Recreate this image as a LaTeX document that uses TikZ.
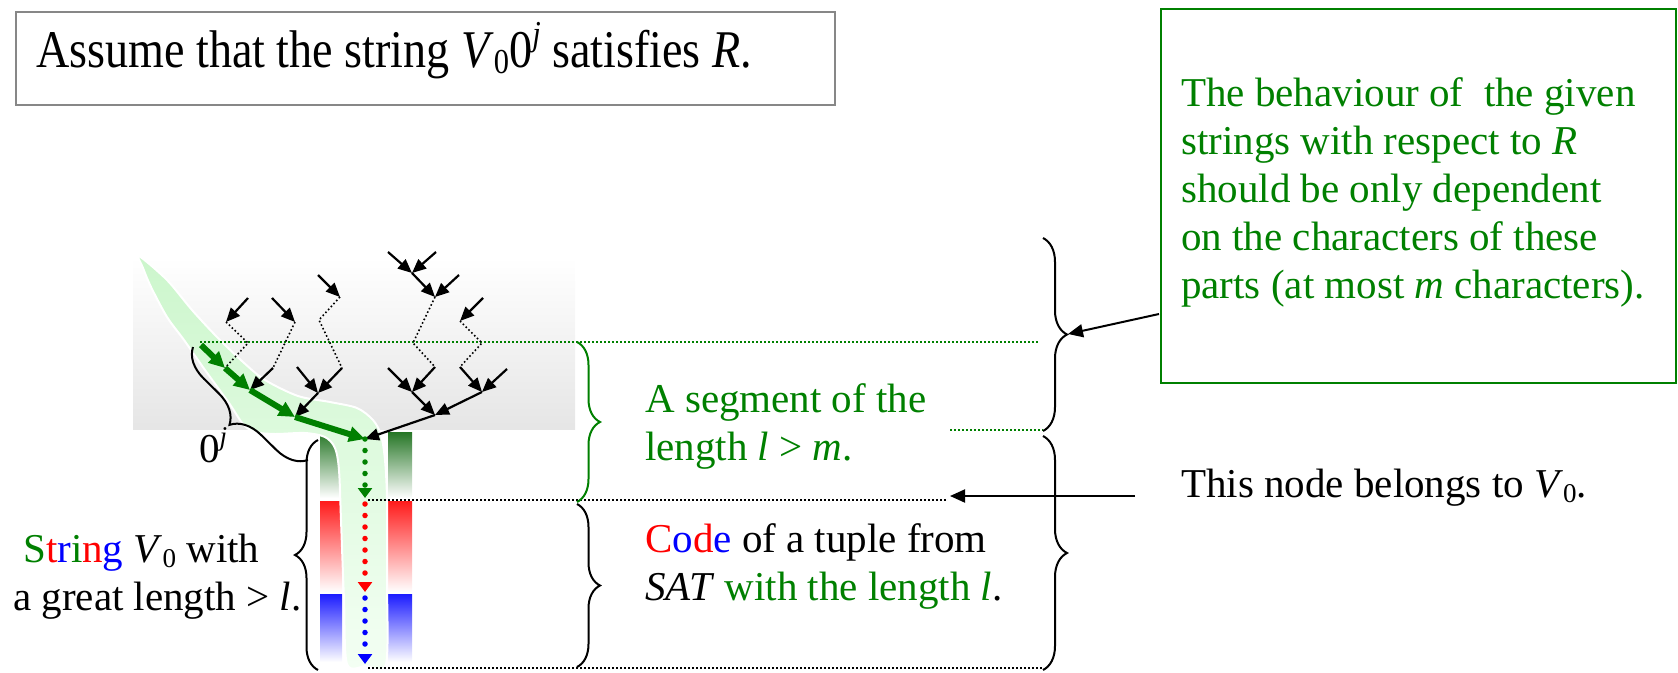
\documentclass[tikz,border=0pt]{standalone}
\usepackage{fontspec}
\setmainfont{Liberation Serif}
\usetikzlibrary{arrows.meta,decorations.pathreplacing}

\definecolor{pgreen}{RGB}{0,128,0}
\definecolor{pred}{RGB}{255,0,0}
\definecolor{pblue}{RGB}{0,0,255}
\definecolor{boxgray}{RGB}{135,135,135}
\definecolor{blobA}{RGB}{204,246,204}
\definecolor{blobB}{RGB}{244,255,244}
\definecolor{barGreen}{RGB}{38,118,38}
\definecolor{barRed}{RGB}{255,28,28}
\definecolor{barBlue}{RGB}{28,28,255}

\newcommand\bodyfont{\fontsize{41}{48}\selectfont}
\newcommand\titlefont{\fontsize{53}{60}\selectfont}
% small lowered / raised indices set in text fonts
\newcommand\subidx[1]{\raisebox{-0.13em}{\scalebox{0.66}{#1}}}
\newcommand\supidx[1]{\raisebox{0.40em}{\scalebox{0.66}{#1}}}

\begin{document}
\begin{tikzpicture}[x=1pt,y=-1pt,
  tarrow/.style={draw=black,line width=2.2pt,-{Triangle[length=14pt,width=12pt]}},
  parrow/.style={draw=black,line width=2pt,-{Triangle[length=15pt,width=13pt]}},
  tdots/.style={draw=black,line width=1.6pt,dash pattern=on 1.6pt off 2.4pt},
  garrow/.style={draw=pgreen,line width=6pt,-{Triangle[length=16pt,width=15pt]}},
  vdots/.style={line width=5.5pt,line cap=round,dash pattern=on 0pt off 11.5pt,-{Triangle[length=10pt,width=14pt]}},
  hdots/.style={line width=1.5pt,dash pattern=on 1.5pt off 2.5pt},
  brc/.style={decorate,decoration={brace,amplitude=#1},line width=2pt},
  lbl/.style={font=\bodyfont,inner sep=0pt,anchor=base west,align=left},
]
\useasboundingbox (0,0) rectangle (1678,672);

% ---------- boxes ----------
\node[draw=boxgray,line width=2pt,minimum width=819pt,minimum height=93pt,
      anchor=north west,inner sep=0pt] (titlebox) at (15,11) {};
\node[lbl,font=\titlefont] (title) at (36,67)
  {\scalebox{0.87}[1]{Assume that the string \textit{V}\subidx{0}0\supidx{\textit{j}} satisfies \textit{R}.}};

\node[draw=pgreen,line width=2pt,minimum width=515pt,minimum height=374pt,
      anchor=north west,inner sep=0pt] (gbox) at (1160,8) {};
% multi-line labels are anchored at the baseline of their last line
\node[lbl,text=pgreen] (behaviour) at (1181,298)
  {The behaviour of\ \ the given\\strings with respect to \textit{R}\\should be only dependent\\on the characters of these\\parts (at most \textit{m} characters).};

% ---------- background of the tree ----------
\shade[top color=white,bottom color=black!10] (133,257) rectangle (575,429);

% coloured bars beside the string
\shade[top color=barGreen,bottom color=white] (320,432) rectangle (342,498);
\shade[top color=barGreen,bottom color=white] (388,432) rectangle (412,498);
\shade[top color=barRed,bottom color=white] (320,501) rectangle (342,592);
\shade[top color=barRed,bottom color=white] (388,501) rectangle (412,592);
\shade[top color=barBlue,bottom color=white] (320,594) rectangle (342,662);
\shade[top color=barBlue,bottom color=white] (388,594) rectangle (412,662);

% highlighted path of the string
\shadedraw[top color=blobA,middle color=blobA,bottom color=blobB,draw=white,line width=2pt]
  plot[smooth cycle,tension=0.5] coordinates {
   (139,256) (167,280) (192,310) (217,337) (243,362) (265,380) (298,396)
   (330,402) (357,408) (373,420) (381,435) (385,460) (387,500) (387,580)
   (386,664) (366,666) (347,664) (344,600) (341,520) (339,470) (335,448)
   (325,437) (305,433) (275,434) (255,432) (243,424) (229,403) (205,370)
   (184,340) (167,317) (151,287) (143,268)};

% ---------- guide lines ----------
\coordinate (gl0) at (200,342);
\coordinate (gl1) at (1040,342);
\coordinate (gs0) at (950,430);
\coordinate (gs1) at (1043,430);
\coordinate (kl0) at (368,500);
\coordinate (kl1) at (948,500);
\coordinate (kb0) at (368,668);
\coordinate (kb1) at (1043,668);
\draw[hdots,pgreen] (gl0) -- (gl1);
\draw[hdots,pgreen] (gs0) -- (gs1);
\draw[hdots,black] (kl0) -- (kl1);
\draw[hdots,black] (kb0) -- (kb1);

% ---------- braces ----------
\draw[brc=30] (308,460) -- (193,347);
\draw[brc=23] (318,670) -- (318,440);
\draw[brc=23,pgreen] (577,342) -- (577,502);
\draw[brc=23] (577,504) -- (577,667);
\draw[brc=24] (1043,238) -- (1043,431);
\draw[brc=24] (1043,436) -- (1043,670);

% ---------- tree ----------
\coordinate (g0) at (201,345);
\coordinate (g1) at (225,368);
\coordinate (g2) at (250,390);
\coordinate (g3) at (295,417);
\coordinate (g4) at (365,439);

\coordinate (a0) at (248,298);
\coordinate (a1) at (226,322);
\coordinate (a2) at (248,343);
\draw[tarrow] (a0) -- (a1);
\draw[tdots] (a1) -- (a2) -- (g1);

\coordinate (b0) at (272,298);
\coordinate (b1) at (295,322);
\coordinate (b2) at (273,368);
\draw[tarrow] (b0) -- (b1);
\draw[tdots] (b1) -- (b2);
\draw[tarrow] (b2) -- (g2);

\coordinate (c0) at (318,275);
\coordinate (c1) at (340,297);
\coordinate (c2) at (319,320);
\coordinate (c3) at (342,368);
\coordinate (c4) at (297,367);
\coordinate (c5) at (318,393);
\draw[tarrow] (c0) -- (c1);
\draw[tdots] (c1) -- (c2) -- (c3);
\draw[tarrow] (c3) -- (c5);
\draw[tarrow] (c4) -- (c5);
\draw[tarrow] (c5) -- (g3);

\coordinate (d0) at (388,252);
\coordinate (d1) at (436,252);
\coordinate (d2) at (412,273);
\coordinate (d3) at (459,275);
\coordinate (d4) at (435,297);
\coordinate (d5) at (413,343);
\coordinate (d6) at (435,367);
\coordinate (d7) at (388,368);
\coordinate (d8) at (412,392);
\coordinate (d9) at (435,415);
\draw[tarrow] (d0) -- (d2);
\draw[tarrow] (d1) -- (d2);
\draw[tarrow] (d2) -- (d4);
\draw[tarrow] (d3) -- (d4);
\draw[tdots] (d4) -- (d5) -- (d6);
\draw[tarrow] (d7) -- (d8);
\draw[tarrow] (d6) -- (d8);
\draw[tarrow] (d8) -- (d9);

\coordinate (e0) at (483,298);
\coordinate (e1) at (460,321);
\coordinate (e2) at (482,343);
\coordinate (e3) at (460,367);
\coordinate (e4) at (507,369);
\coordinate (e5) at (482,392);
\draw[tarrow] (e0) -- (e1);
\draw[tdots] (e1) -- (e2) -- (e3);
\draw[tarrow] (e3) -- (e5);
\draw[tarrow] (e4) -- (e5);
\draw[tarrow] (e5) -- (d9);
\draw[tarrow] (d9) -- (g4);

% the prefix 0^j of the string
\draw[garrow] (g0) -- (g1);
\draw[garrow] (g1) -- (g2);
\draw[garrow] (g2) -- (g3);
\draw[garrow] (g3) -- (g4);

% the string V_0 going down
\coordinate (gend) at (365,498);
\coordinate (rbeg) at (365,504);
\coordinate (rend) at (365,592);
\coordinate (bbeg) at (365,598);
\coordinate (bend) at (365,664);
\draw[vdots,pgreen] (g4) -- (gend);
\draw[vdots,pred] (rbeg) -- (rend);
\draw[vdots,pblue] (bbeg) -- (bend);

% ---------- labels ----------
\node[lbl] (zeroj) at (199,462) {0\supidx{\textit{j}}};
\node[lbl] (strlabel) at (13,610)
  {\hspace*{10pt}{\color{pgreen}S}{\color{pred}t}{\color{pblue}r}{\color{pgreen}i}{\color{pred}n}{\color{pblue}g} \textit{V}\subidx{0} with\\a great length > \textit{l}.};
\node[lbl,text=pgreen] (segment) at (645,460) {A segment of the\\length \textit{l} > \textit{m}.};
\node[lbl] (code) at (645,600)
  {{\color{pred}C}{\color{pblue}o}{\color{pred}d}{\color{pblue}e} of a tuple from\\\textit{SAT} {\color{pgreen}with the length \textit{l}}.};
\node[lbl] (belongs) at (1181,497) {This node belongs to \textit{V}\subidx{0}.};

% ---------- pointers ----------
\coordinate (gboxport) at (1159,314);
\coordinate (rbtip) at (1068,334);
\draw[parrow] (gboxport) -- (rbtip);
\coordinate (belport) at (1135,496);
\coordinate (v0mark) at (950,496);
\draw[parrow] (belport) -- (v0mark);
\end{tikzpicture}
\end{document}
